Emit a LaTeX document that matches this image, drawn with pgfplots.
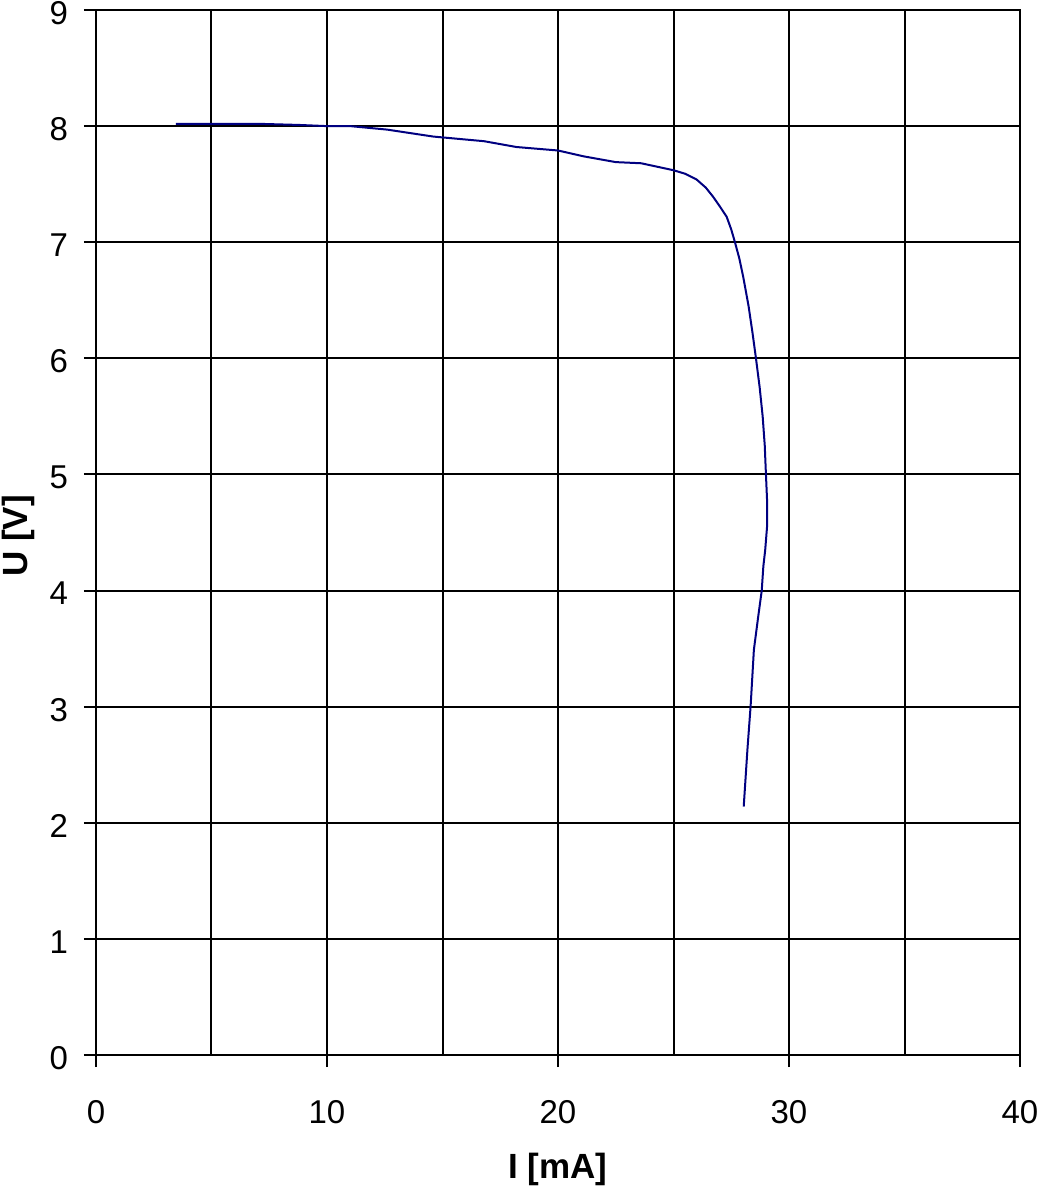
\documentclass[border=0pt]{standalone}
\usepackage{fontspec}
\setmainfont{Liberation Sans}
\usepackage{pgfplots}
\pgfplotsset{compat=1.18}
\definecolor{curve}{RGB}{0,0,128}
\begin{document}
\begin{tikzpicture}
\useasboundingbox (-48pt,-67.5pt) rectangle ++(520.5pt,595pt);
\begin{axis}[
  at={(0,0)}, anchor=south west,
  scale only axis,
  width=462pt, height=522.5pt,
  xmin=0, xmax=40, ymin=0, ymax=9,
  xtick={0,10,20,30,40},
  minor xtick={5,15,25,35},
  ytick={0,1,...,9},
  grid=both,
  major grid style={black, line width=1pt},
  minor grid style={black, line width=1pt},
  axis line style={black, line width=1pt},
  tick style={black, line width=1pt},
  major tick length=6pt,
  minor tick length=0pt,
  tick align=outside,
  xtick pos=bottom, ytick pos=left,
  font=\fontsize{16pt}{19pt}\selectfont,
  /pgf/number format/assume math mode=true,
  xticklabel style={font=\fontsize{16.5pt}{19pt}\selectfont, yshift=-13pt},
  yticklabel style={font=\fontsize{16.5pt}{19pt}\selectfont, yshift=-1.5pt, xshift=-4.5pt},
  xlabel={\bfseries I [mA]},
  ylabel={\bfseries U [V]},
  xlabel style={font=\fontsize{17.5pt}{20pt}\selectfont, at={(rel axis cs:0.5,0)}, anchor=center, yshift=-57pt},
  ylabel style={font=\fontsize{17.5pt}{20pt}\selectfont, at={(rel axis cs:0,0.5)}, anchor=center, yshift=39pt, xshift=-1.75pt},
]
\addplot[curve, line width=1pt, no marks] table {
3.46 8.02
5.0 8.02
7.0 8.02
8.8 8.01
10.0 8.00
11.0 8.00
12.6 7.97
14.6 7.91
16.8 7.87
18.2 7.82
20.0 7.79
21.1 7.74
22.5 7.69
23.6 7.68
25.0 7.62
25.5 7.59
26.0 7.54
26.4 7.47
26.72 7.39
27.0 7.31
27.3 7.22
27.5 7.11
27.66 7.00
27.85 6.86
28.02 6.70
28.25 6.45
28.42 6.22
28.57 6.00
28.73 5.75
28.86 5.50
28.95 5.25
29.0 5.01
29.05 4.78
29.05 4.55
28.97 4.35
28.89 4.21
28.82 4.00
28.67 3.78
28.48 3.49
28.34 3.01
28.2 2.63
28.04 2.14
};
\end{axis}
\end{tikzpicture}
\end{document}
